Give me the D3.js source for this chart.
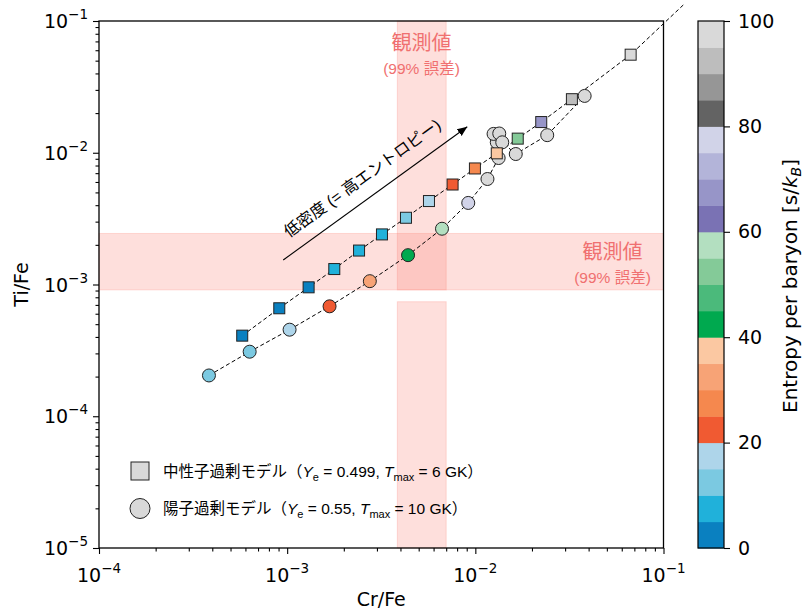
<!DOCTYPE html>
<html>
<head>
<meta charset="utf-8">
<script src="https://cdn.jsdelivr.net/npm/d3@7"></script>
<style>
  body { margin: 0; background: #fff; }
  svg { display: block; }
  .tick line { stroke: #000; stroke-width: 1.1; }
</style>
</head>
<body>
<div id="chart"></div>
<script>
(function () {
  'use strict';

  // neutron-rich model (Ye = 0.499, Tmax = 6 GK), squares; last point lies outside the axes
  var nRichCrFe = [5.77e-4, 9.08e-4, 1.30e-3, 1.78e-3, 2.41e-3, 3.19e-3, 4.28e-3, 5.67e-3,
    7.57e-3, 9.95e-3, 1.30e-2, 1.68e-2, 2.24e-2, 3.26e-2, 6.69e-2, 0.13];
  var nRichTiFe = [4.09e-4, 6.60e-4, 9.52e-4, 1.31e-3, 1.81e-3, 2.40e-3, 3.21e-3, 4.30e-3,
    5.74e-3, 7.60e-3, 9.90e-3, 1.28e-2, 1.71e-2, 2.55e-2, 5.55e-2, 0.136];
  var nRichEntropy = [2.5, 2.5, 2.5, 7.5, 7.5, 7.5, 12.5, 17.5, 22.5, 27.5, 37.5, 52.5, 67.5, 92.5, 97.5, 100];

  // proton-rich model (Ye = 0.55, Tmax = 10 GK), circles
  var pRichCrFe = [3.84e-4, 6.32e-4, 1.03e-3, 1.68e-3, 2.75e-3, 4.39e-3, 6.65e-3, 9.17e-3, 1.16e-2,
    1.33e-2, 1.30e-2, 1.25e-2, 1.34e-2, 1.39e-2, 1.64e-2, 2.41e-2, 3.81e-2];
  var pRichTiFe = [2.04e-4, 3.09e-4, 4.54e-4, 6.83e-4, 1.06e-3, 1.67e-3, 2.65e-3, 4.16e-3, 6.32e-3,
    9.12e-3, 1.20e-2, 1.39e-2, 1.40e-2, 1.20e-2, 9.78e-3, 1.36e-2, 2.70e-2];
  var pRichEntropy = [12.5, 12.5, 17.5, 22.5, 32.5, 42.5, 57.5, 77.5, 97.5,
    97.5, 97.5, 97.5, 97.5, 97.5, 97.5, 97.5, 97.5];

  // observed ranges (99% error)
  var obsCrFe = [3.85e-3, 7.0e-3];
  var obsTiFe = [9.1e-4, 2.44e-3];
  var obsCrFeSpans = [[1e-5, 7.4e-4], [9.1e-4, 1e-1]];   // vertical band, drawn in two pieces

  // "low density" arrow, data coords
  var arrowFrom = [9.53e-4, 1.535e-3];
  var arrowTo = [9.06e-3, 1.576e-2];

  var entropyColors = [
    '#0a80c0', '#20b1da', '#7bc9e1', '#aed5ea',
    '#f05a32', '#f5884e', '#f7a376', '#fbc8a2',
    '#00a94f', '#4bba7b', '#84ca98', '#b3dfc0',
    '#7a72b4', '#9795c8', '#b3b4d9', '#d1d3e8',
    '#636363', '#969696', '#bdbdbd', '#d9d9d9'
  ];
  var colorbarTicks = [0, 20, 40, 60, 80, 100];
  var xMajor = [1e-4, 1e-3, 1e-2, 1e-1];
  var yMajor = [1e-5, 1e-4, 1e-3, 1e-2, 1e-1];

  var W = 804, H = 610;
  var left = 99, right = 663.5, top = 21, bottom = 548;
  var LATIN = "'DejaVu Sans', sans-serif";
  var CJK = "'Liberation Sans', 'Noto Sans CJK JP', sans-serif";
  var OBS = '#f07070';

  var x = d3.scaleLog().domain([1e-4, 1e-1]).range([left, right]);
  var y = d3.scaleLog().domain([1e-5, 1e-1]).range([bottom, top]);
  var color = d3.scaleQuantize().domain([0, 100]).range(entropyColors);

  var svg = d3.select('#chart').append('svg')
    .attr('width', W).attr('height', H);

  svg.append('clipPath').attr('id', 'plotClip')
    .append('rect')
    .attr('x', left).attr('y', top)
    .attr('width', right - left).attr('height', bottom - top);

  // observation bands
  var bands = svg.append('g');
  bands.append('rect')
    .attr('x', left).attr('width', right - left)
    .attr('y', y(obsTiFe[1])).attr('height', y(obsTiFe[0]) - y(obsTiFe[1]));
  bands.selectAll('.vspan')
    .data(obsCrFeSpans)
    .enter().append('rect')
    .attr('class', 'vspan')
    .attr('x', x(obsCrFe[0])).attr('width', x(obsCrFe[1]) - x(obsCrFe[0]))
    .attr('y', function (d) { return y(d[1]); })
    .attr('height', function (d) { return y(d[0]) - y(d[1]); });
  bands.selectAll('rect')
    .attr('fill', 'salmon').attr('fill-opacity', 0.25)
    .attr('stroke', 'salmon').attr('stroke-opacity', 0.25).attr('stroke-width', 1);

  // observation labels
  function obsLabel(cx, cy) {
    var g = svg.append('g').attr('fill', OBS).attr('text-anchor', 'middle').style('font-family', CJK);
    g.append('text').attr('x', cx).attr('y', cy).style('font-size', '20px').text('観測値');
    g.append('text').attr('x', cx).attr('y', cy + 24).style('font-size', '15.5px').text('(99% 誤差)');
  }
  obsLabel(421.5, 50);
  obsLabel(612.5, 259);

  function series(xs, ys, es) {
    return xs.map(function (v, i) { return {cr: v, ti: ys[i], s: es[i]}; });
  }
  var nRich = series(nRichCrFe, nRichTiFe, nRichEntropy);
  var pRich = series(pRichCrFe, pRichTiFe, pRichEntropy);

  var line = d3.line()
    .x(function (d) { return x(d.cr); })
    .y(function (d) { return y(d.ti); });

  svg.selectAll('.model-line')
    .data([pRich, nRich])
    .enter().append('path')
    .attr('class', 'model-line')
    .attr('d', line)
    .attr('fill', 'none')
    .attr('stroke', '#000')
    .attr('stroke-width', 1)
    .attr('stroke-dasharray', '4,2.6');

  var marks = svg.append('g').attr('clip-path', 'url(#plotClip)');
  marks.selectAll('circle')
    .data(pRich)
    .enter().append('circle')
    .attr('cx', function (d) { return x(d.cr); })
    .attr('cy', function (d) { return y(d.ti); })
    .attr('r', 6.5)
    .attr('fill', function (d) { return color(d.s); })
    .attr('stroke', '#222').attr('stroke-width', 1);

  var sq = 11;
  marks.selectAll('.sq')
    .data(nRich)
    .enter().append('rect')
    .attr('class', 'sq')
    .attr('x', function (d) { return x(d.cr) - sq / 2; })
    .attr('y', function (d) { return y(d.ti) - sq / 2; })
    .attr('width', sq).attr('height', sq)
    .attr('fill', function (d) { return color(d.s); })
    .attr('stroke', '#222').attr('stroke-width', 1);

  // arrow + rotated note
  svg.append('defs').append('marker')
    .attr('id', 'head')
    .attr('viewBox', '0 0 10 10')
    .attr('refX', 10).attr('refY', 5)
    .attr('markerWidth', 10).attr('markerHeight', 10)
    .attr('markerUnits', 'userSpaceOnUse')
    .attr('orient', 'auto')
    .append('path').attr('d', 'M0,0.8L10,5L0,9.2Z').attr('fill', '#000');

  var ax0 = x(arrowFrom[0]), ay0 = y(arrowFrom[1]);
  var ax1 = x(arrowTo[0]), ay1 = y(arrowTo[1]);
  svg.append('line')
    .attr('x1', ax0).attr('y1', ay0).attr('x2', ax1).attr('y2', ay1)
    .attr('stroke', '#000').attr('stroke-width', 1.1)
    .attr('marker-end', 'url(#head)');

  var ang = Math.atan2(ay1 - ay0, ax1 - ax0);
  var dx = Math.cos(ang), dy = Math.sin(ang);
  var tx = ax0 + 112 * dx + 20 * dy, ty = ay0 + 112 * dy - 20 * dx;
  svg.append('text')
    .attr('transform', 'translate(' + tx + ',' + ty + ') rotate(' + (ang * 180 / Math.PI) + ')')
    .attr('text-anchor', 'middle')
    .attr('dy', '0.35em')
    .style('font-family', CJK)
    .style('font-size', '16px')
    .text('低密度 (= 高エントロピー)');

  // legend
  var legend = svg.append('g').style('font-family', CJK).style('font-size', '15.5px');
  legend.append('rect')
    .attr('x', 131).attr('y', 462).attr('width', 18).attr('height', 18)
    .attr('fill', '#d9d9d9').attr('stroke', '#222').attr('stroke-width', 1);
  legend.append('circle')
    .attr('cx', 140).attr('cy', 508.5).attr('r', 10)
    .attr('fill', '#d9d9d9').attr('stroke', '#222').attr('stroke-width', 1);

  function legendText(yy, name, ye, tmax) {
    var t = legend.append('text').attr('x', 163).attr('y', yy);
    t.append('tspan').text(name + '（');
    t.append('tspan').style('font-style', 'italic').text('Y');
    t.append('tspan').attr('dy', 4).style('font-size', '11px').text('e');
    t.append('tspan').attr('dy', -4).text(' = ' + ye + ', ');
    t.append('tspan').style('font-style', 'italic').text('T');
    t.append('tspan').attr('dy', 4).style('font-size', '11px').text('max');
    t.append('tspan').attr('dy', -4).text(' = ' + tmax + ' GK）');
  }
  legendText(477, '中性子過剰モデル', '0.499', '6');
  legendText(514, '陽子過剰モデル', '0.55', '10');

  // frame
  svg.append('rect')
    .attr('x', left).attr('y', top)
    .attr('width', right - left).attr('height', bottom - top)
    .attr('fill', 'none').attr('stroke', '#000').attr('stroke-width', 1.3);

  // log axes: majors + minors
  function minors(domain) {
    var out = [];
    for (var e = Math.log10(domain[0]); e < Math.log10(domain[1]); e++) {
      for (var k = 2; k <= 9; k++) out.push(k * Math.pow(10, e));
    }
    return out;
  }
  function cleanup(g) { g.select('.domain').remove(); }

  var xAxisG = svg.append('g').attr('transform', 'translate(0,' + bottom + ')');
  xAxisG.append('g').call(d3.axisBottom(x).tickValues(xMajor).tickSize(6).tickFormat(''))
    .call(cleanup);
  xAxisG.append('g').call(d3.axisBottom(x).tickValues(minors(x.domain())).tickSize(3.5).tickFormat(''))
    .call(cleanup);

  var yAxisG = svg.append('g').attr('transform', 'translate(' + left + ',0)');
  yAxisG.append('g').call(d3.axisLeft(y).tickValues(yMajor).tickSize(6).tickFormat(''))
    .call(cleanup);
  yAxisG.append('g').call(d3.axisLeft(y).tickValues(minors(y.domain())).tickSize(3.5).tickFormat(''))
    .call(cleanup);

  function powLabel(sel, v) {
    sel.append('tspan').text('10');
    sel.append('tspan').attr('dy', -9).style('font-size', '13.5px')
      .text('\u2212' + Math.abs(Math.round(Math.log10(v))));
  }

  svg.append('g').selectAll('text')
    .data(xMajor)
    .enter().append('text')
    .attr('x', function (d) { return x(d); })
    .attr('y', 582)
    .attr('text-anchor', 'middle')
    .style('font-family', LATIN).style('font-size', '19px')
    .each(function (d) { powLabel(d3.select(this), d); });

  svg.append('g').selectAll('text')
    .data(yMajor)
    .enter().append('text')
    .attr('x', 88)
    .attr('y', function (d) { return y(d) + 7; })
    .attr('text-anchor', 'end')
    .style('font-family', LATIN).style('font-size', '19px')
    .each(function (d) { powLabel(d3.select(this), d); });

  svg.append('text')
    .attr('x', (left + right) / 2).attr('y', 606)
    .attr('text-anchor', 'middle')
    .style('font-family', LATIN).style('font-size', '19px')
    .text('Cr/Fe');

  svg.append('text')
    .attr('transform', 'translate(28,' + ((top + bottom) / 2) + ') rotate(-90)')
    .attr('text-anchor', 'middle')
    .style('font-family', LATIN).style('font-size', '19px')
    .text('Ti/Fe');

  // colorbar
  var cbLeft = 698, cbW = 26;
  var cy = d3.scaleLinear().domain([0, 100]).range([bottom, top]);
  var bins = entropyColors.map(function (c, i) { return {lo: i * 5, hi: i * 5 + 5, c: c}; });
  var cb = svg.append('g');
  cb.selectAll('rect')
    .data(bins)
    .enter().append('rect')
    .attr('x', cbLeft).attr('width', cbW)
    .attr('y', function (d) { return cy(d.hi); })
    .attr('height', function (d) { return cy(d.lo) - cy(d.hi) + 0.5; })
    .attr('fill', function (d) { return d.c; });
  cb.append('rect')
    .attr('x', cbLeft).attr('y', top).attr('width', cbW).attr('height', bottom - top)
    .attr('fill', 'none').attr('stroke', '#000').attr('stroke-width', 1.2);

  var cbAxis = cb.append('g')
    .attr('transform', 'translate(' + (cbLeft + cbW) + ',0)')
    .call(d3.axisRight(cy).tickValues(colorbarTicks).tickSize(6).tickPadding(8))
    .call(cleanup);
  cbAxis.selectAll('text')
    .style('font-family', LATIN).style('font-size', '19px').attr('fill', '#000');

  var cbLabel = svg.append('text')
    .attr('transform', 'translate(797,286) rotate(-90)')
    .attr('text-anchor', 'middle')
    .style('font-family', LATIN).style('font-size', '20px');
  cbLabel.append('tspan').text('Entropy per baryon [s/');
  cbLabel.append('tspan').style('font-style', 'italic').text('k');
  cbLabel.append('tspan').attr('dy', 4).style('font-style', 'italic').style('font-size', '14px').text('B');
  cbLabel.append('tspan').attr('dy', -4).text(']');
})();
</script>
</body>
</html>
